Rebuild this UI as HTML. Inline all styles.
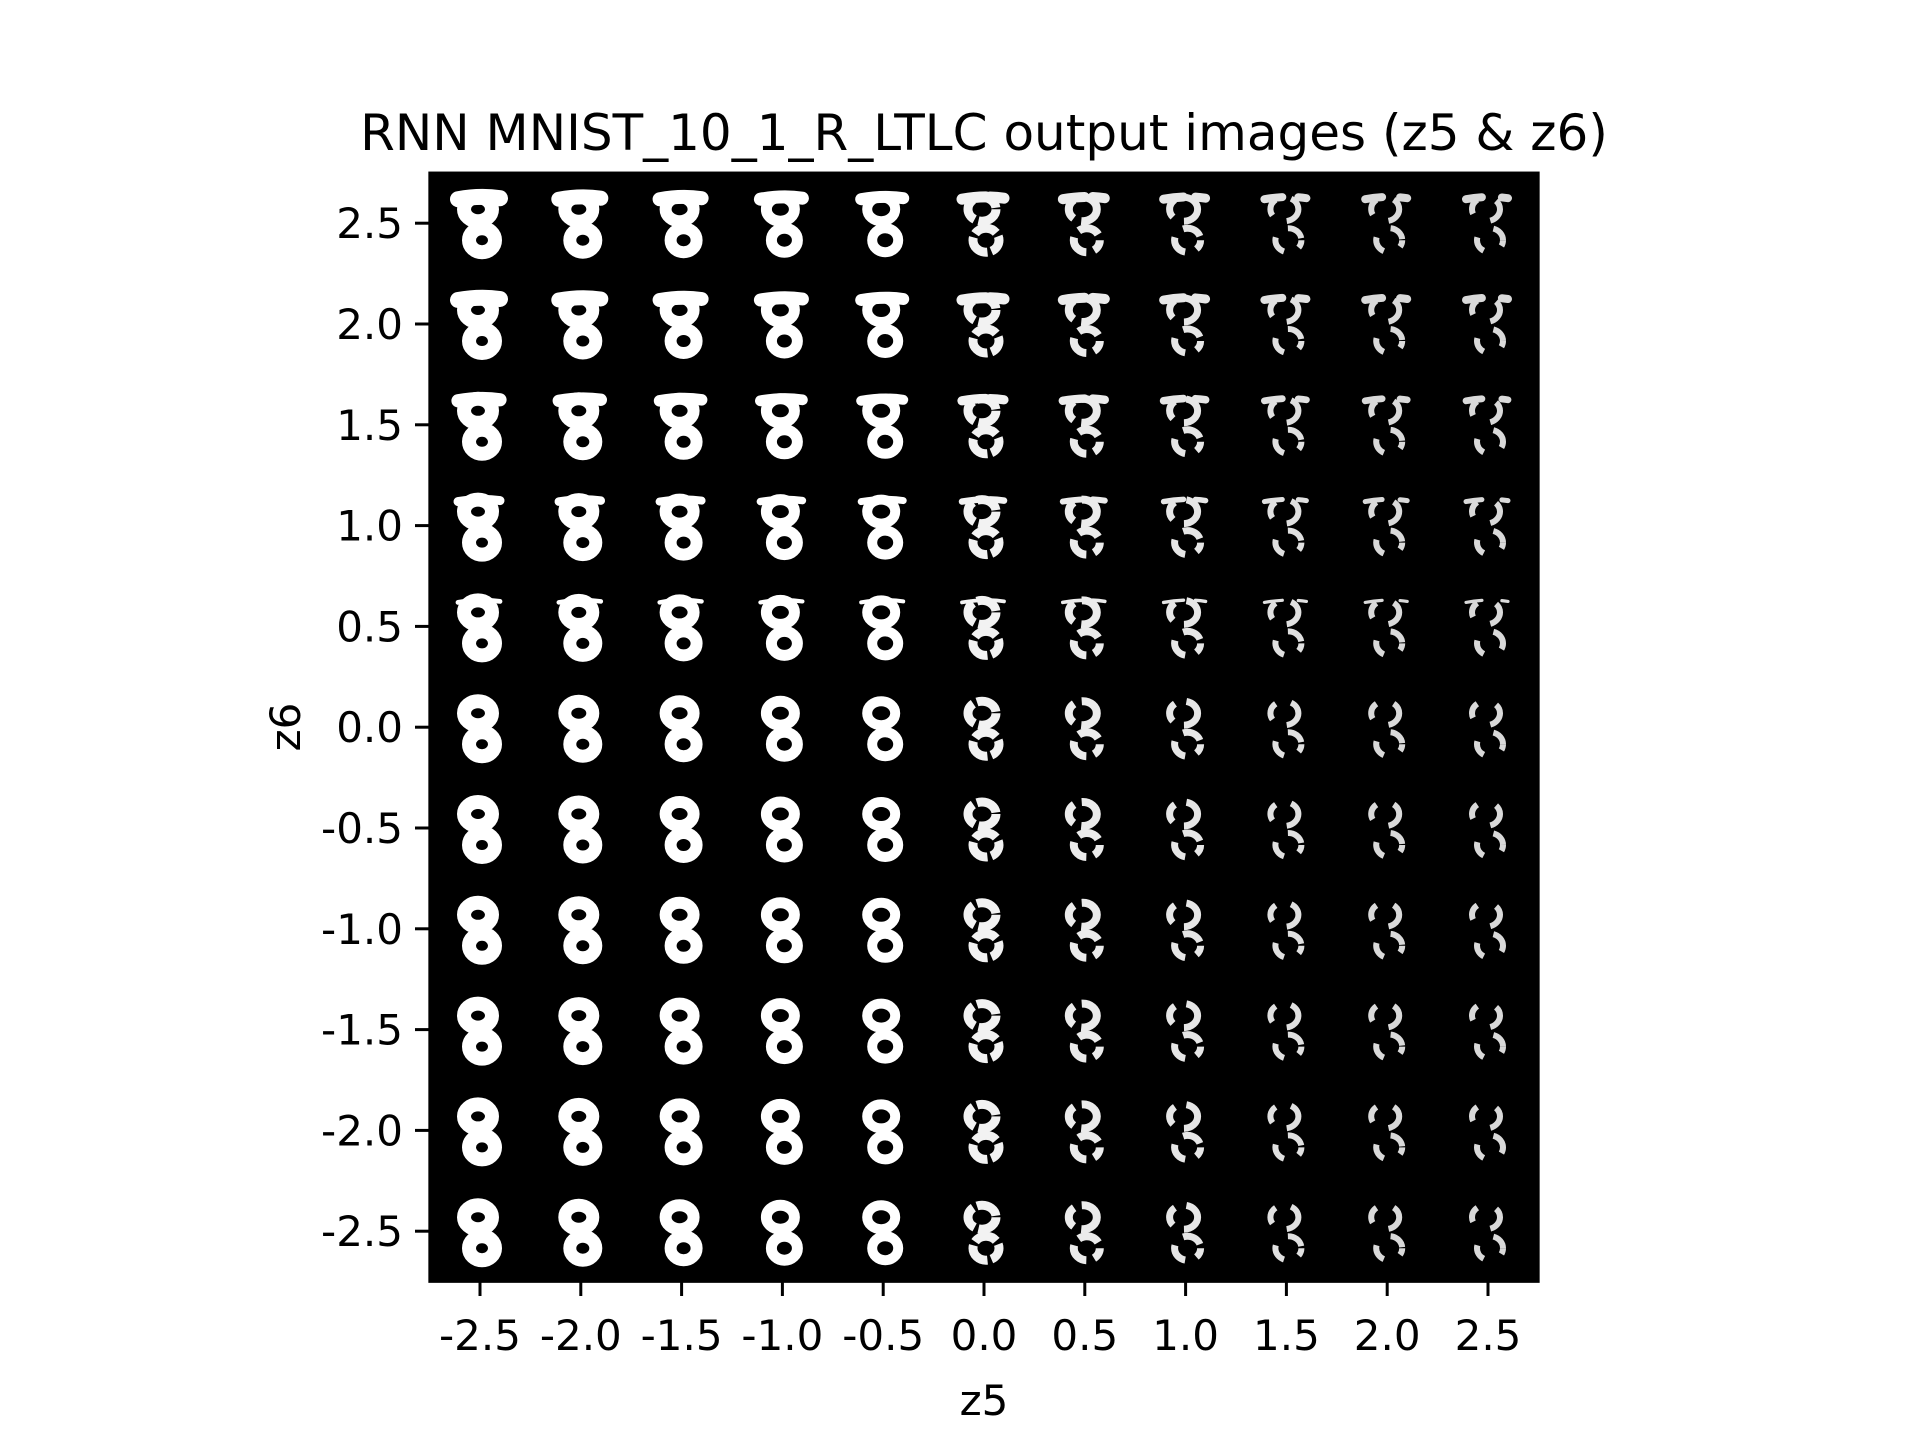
<!DOCTYPE html>
<html><head><meta charset="utf-8"><style>
html,body{margin:0;padding:0;background:#fff;}
svg{display:block;font-family:"DejaVu Sans","Liberation Sans",sans-serif;}
</style></head><body>
<svg id="chart" width="1920" height="1440" viewBox="0 0 1920 1440">
<text x="984" y="150" font-size="50" text-anchor="middle">RNN MNIST_10_1_R_LTLC output images (z5 &amp; z6)</text>
<rect x="429.6" y="172.8" width="1108.8" height="1108.8" fill="#000"/>
<g id="cells"></g>
<g id="axes"></g>
<text x="984" y="1415" font-size="42" text-anchor="middle">z5</text>
<text x="0" y="0" font-size="42" text-anchor="middle" transform="translate(300,727) rotate(-90)">z6</text>
</svg>
<script>
const z5Ticks = ["-2.5","-2.0","-1.5","-1.0","-0.5","0.0","0.5","1.0","1.5","2.0","2.5"];
const z6Ticks = ["2.5","2.0","1.5","1.0","0.5","0.0","-0.5","-1.0","-1.5","-2.0","-2.5"];
const z5Values = [-2.5,-2,-1.5,-1,-0.5,0,0.5,1,1.5,2,2.5];
const z6Values = [2.5,2,1.5,1,0.5,0,-0.5,-1,-1.5,-2,-2.5];
const strokeByCol = [14,13,12,11,10,9,8,7,6,6,6];
const brightByCol = [1,1,1,1,1,0.95,0.92,0.9,0.88,0.85,0.85];
const gapByCol = [0,0,0,0,0,4,8,12,16,18,20];
const topBarByRow = [1,1,0.8,0.5,0.2,0,0,0,0,0,0];

const L=429.6,T=172.8,S=1108.8,ext=2.75;
const xs=v=>L+(v+ext)/(2*ext)*S;
const ys=v=>T+(ext-v)/(2*ext)*S;
const NS="http://www.w3.org/2000/svg";
const cells=document.getElementById('cells'), axes=document.getElementById('axes');
function mk(tag,attrs,parent){const e=document.createElementNS(NS,tag);for(const k in attrs)e.setAttribute(k,attrs[k]);parent.appendChild(e);return e;}

z6Values.forEach((zy,r)=>{
  z5Values.forEach((zx,c)=>{
    const cx=xs(zx), cy=ys(zy);
    const g=mk('g',{transform:`translate(${cx},${cy})`,opacity:brightByCol[c]},cells);
    
    
    const sw=strokeByCol[c];
    const gap=gapByCol[c];
    const dash=gap>0?`${26-gap/2} ${gap}`:'none';
    mk('ellipse',{cx:-2,cy:-14,rx:14,ry:12,fill:'none',stroke:'#fff','stroke-width':sw,'stroke-dasharray':dash},g);
    mk('ellipse',{cx:2,cy:17,rx:13,ry:12,fill:'none',stroke:'#fff','stroke-width':sw,'stroke-dasharray':dash,'stroke-dashoffset':10},g);
    const tb=topBarByRow[r];
    if(tb>0){
      mk('path',{d:'M -22 -24 Q 0 -28 20 -25',fill:'none',stroke:'#fff','stroke-width':sw*tb+2,'stroke-linecap':'round','stroke-dasharray':dash},g);
    }
  });
});

z5Values.forEach((v,i)=>{
  const x=xs(v);
  const tk=mk('line',{x1:x,y1:1281.6,x2:x,y2:1296,stroke:'#000','stroke-width':3},axes);
  
  
  const tl=mk('text',{x:x,y:1350,'font-size':42,'text-anchor':'middle'},axes);
  tl.textContent=z5Ticks[i];
  
  
});
z6Values.forEach((v,i)=>{
  const y=ys(v);
  const tk=mk('line',{x1:415,y1:y,x2:429.6,y2:y,stroke:'#000','stroke-width':3},axes);
  
  
  const tl=mk('text',{x:403,y:y+15,'font-size':42,'text-anchor':'end'},axes);
  tl.textContent=z6Ticks[i];
  
  
});
const fr=mk('rect',{x:L,y:T,width:S,height:S,fill:'none',stroke:'#000','stroke-width':2.5},axes);


</script>
</body></html>
